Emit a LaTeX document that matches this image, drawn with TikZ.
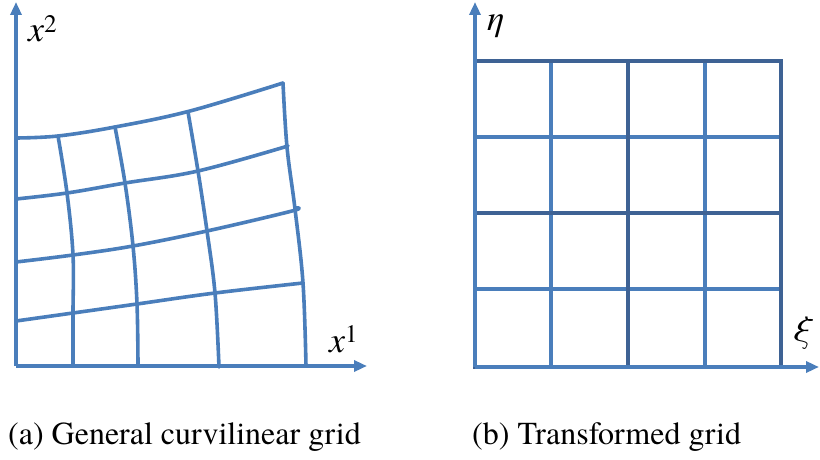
\documentclass[tikz,border=0pt]{standalone}
\usepackage{fontspec}
\setmainfont{texgyretermes}[Extension=.otf, UprightFont=*-regular, ItalicFont=*-italic, BoldFont=*-bold, BoldItalicFont=*-bolditalic]
\usetikzlibrary{arrows.meta}

\definecolor{gridblue}{RGB}{74,126,187}
\definecolor{darkblue}{RGB}{62,98,148}

\begin{document}
\begin{tikzpicture}[x=1pt, y=-1pt,
        axis/.style={-{Triangle[length=13pt, width=11pt]}, line width=3.4pt, gridblue},
        curve/.style={line width=3.6pt, gridblue, line join=round, line cap=round},
        thinline/.style={line width=3.4pt, gridblue},
        thickline/.style={line width=3.6pt, darkblue},
        axlabel/.style={font=\fontsize{36}{40}\selectfont\itshape, anchor=base west, inner sep=0pt},
        caption/.style={font=\fontsize{32}{36}\selectfont, anchor=base west, inner sep=0pt}
    ]
        \useasboundingbox (0,0) rectangle (820,460);

        % (a) curvilinear grid
        \coordinate (o1) at (16,366);
        \coordinate (y1) at (16,2);
        \coordinate (x1) at (367,366);

        \draw[curve] plot[smooth, tension=0.6] coordinates {(16,138) (58,136) (115,127) (190,111) (283,83)};
        \draw[curve] plot[smooth, tension=0.6] coordinates {(16,199) (67,193) (125,183) (198,171) (288,146)};
        \draw[curve] plot[smooth, tension=0.6] coordinates {(16,262) (73,255) (133,246) (207,231) (292,211) (295,208)};
        \draw[curve] plot[smooth, tension=0.6] coordinates {(16,321) (73,313) (137,304) (215,293) (303,283)};

        \draw[curve] plot[smooth, tension=0.6] coordinates {(58,136) (67,193) (73,255) (73,313) (73,366)};
        \draw[curve] plot[smooth, tension=0.6] coordinates {(115,127) (125,183) (133,246) (137,304) (138,366)};
        \draw[curve] plot[smooth, tension=0.6] coordinates {(188,112) (198,171) (207,231) (215,293) (219,367)};
        \draw[curve] plot[smooth, tension=0.6] coordinates {(283,83) (287,147) (295,209) (303,283) (306,366)};

        \draw[axis] (o1) -- (y1);
        \draw[axis] (o1) -- (x1);

        \node[axlabel] (lx2) at (28,42) {x\textsuperscript{\upshape 2}};
        \node[axlabel] (lx1) at (329,352) {x\textsuperscript{\upshape 1}};

        % (b) transformed grid
        \coordinate (o2) at (475,367);
        \coordinate (y2) at (475,2);
        \coordinate (x2) at (819,367);

        \foreach \x in {551,705}
            \draw[thinline] (\x,61) -- (\x,367);
        \foreach \y in {137,289}
            \draw[thinline] (475,\y) -- (781,\y);
        \draw[thickline] (628,61) -- (628,367);
        \draw[thickline] (475,213) -- (781,213);
        \draw[thickline] (475,61) rectangle (781,367);

        \draw[axis] (o2) -- (y2);
        \draw[axis] (o2) -- (x2);

        \node[axlabel] (leta) at (487,31) {η};
        \node[axlabel] (lxi) at (792,340) {ξ};

        % captions
        \node[caption] (capa) at (8,444) {(a) General curvilinear grid};
        \node[caption] (capb) at (472,444) {(b) Transformed grid};

    \end{tikzpicture}
\end{document}
